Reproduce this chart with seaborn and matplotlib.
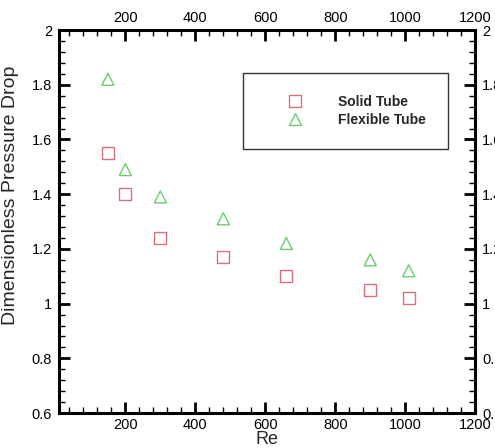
import matplotlib
matplotlib.use("Agg")
import matplotlib.pyplot as plt
import pandas as pd
import seaborn as sns
from matplotlib.ticker import MultipleLocator
from matplotlib.lines import Line2D

# Data
re_values = [150, 200, 300, 480, 660, 900, 1010]
solid_tube = [1.55, 1.40, 1.24, 1.17, 1.10, 1.05, 1.02]
flexible_tube = [1.82, 1.49, 1.39, 1.31, 1.22, 1.16, 1.12]
series_names = ['Solid Tube', 'Flexible Tube']
colors = {'Solid Tube': '#db6f7d', 'Flexible Tube': '#6ccd6c'}

df = pd.concat([
    pd.DataFrame({'Re': re_values, 'dp': solid_tube, 'case': series_names[0]}),
    pd.DataFrame({'Re': re_values, 'dp': flexible_tube, 'case': series_names[1]}),
])

sns.set_style("ticks")
plt.rcParams['font.family'] = ['Liberation Sans', 'DejaVu Sans']

fig = plt.figure(figsize=(4.95, 4.48), dpi=100)
ax = fig.add_axes([0.119, 0.078, 0.841, 0.855])

sns.scatterplot(
    data=df, x='Re', y='dp', hue='case', style='case',
    markers={'Solid Tube': 's', 'Flexible Tube': '^'},
    palette=colors, s=75, linewidth=1.0, ax=ax, legend=False,
)
# seaborn fills markers; make them hollow
for coll in ax.collections:
    ec = coll.get_facecolors()
    coll.set_edgecolors(ec)
    coll.set_facecolors('none')

ax.set_xlim(10, 1200)
ax.set_ylim(0.6, 2.0)
ax.xaxis.set_minor_locator(MultipleLocator(40))
ax.yaxis.set_minor_locator(MultipleLocator(0.04))
ax.set_xticks([200, 400, 600, 800, 1000, 1200])
ax.set_yticks([0.6, 0.8, 1.0, 1.2, 1.4, 1.6, 1.8, 2.0])
ax.set_yticklabels(['0.6', '0.8', '1', '1.2', '1.4', '1.6', '1.8', '2'])

ax.tick_params(which='both', direction='in', top=True, right=True,
               labeltop=True, labelright=True, labelsize=10.5, colors='black')
ax.tick_params(which='major', length=8, width=2)
ax.tick_params(which='minor', length=4, width=1)
ax.tick_params(axis='y', pad=5)
for sp in ax.spines.values():
    sp.set_linewidth(2.2)
    sp.set_color('black')

ax.set_xlabel('Re', fontsize=13, labelpad=-1)
ax.set_ylabel('Dimensionless Pressure Drop', fontsize=14)
ax.yaxis.set_label_coords(-0.095, 0.569)

# legend
handles = [
    Line2D([], [], linestyle='none', marker='s', markersize=8,
           markerfacecolor='none', markeredgecolor=colors['Solid Tube']),
    Line2D([], [], linestyle='none', marker='^', markersize=8,
           markerfacecolor='none', markeredgecolor=colors['Flexible Tube']),
]
leg = ax.legend(handles, series_names, loc='upper left',
                bbox_to_anchor=(0.442, 0.888), frameon=True, fancybox=False,
                borderpad=1.6, labelspacing=0.25, handlelength=4.3,
                handletextpad=0.95, borderaxespad=0,
                prop={'weight': 'bold', 'size': 10})
leg.get_frame().set_edgecolor('black')
leg.get_frame().set_linewidth(1.0)

fig.savefig('out.png', dpi=100)
